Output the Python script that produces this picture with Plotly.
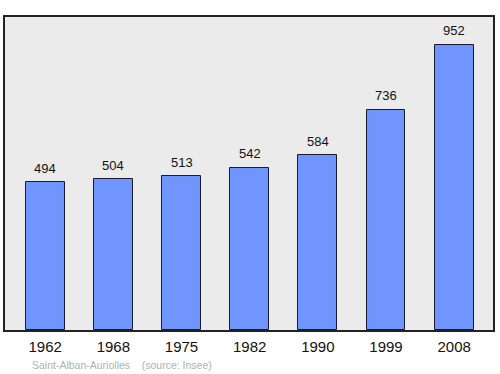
import plotly.graph_objects as go

years = ["1962", "1968", "1975", "1982", "1990", "1999", "2008"]
population = [494, 504, 513, 542, 584, 736, 952]
source_text = "Saint-Alban-Auriolles    (source: Insee)"

idx = list(range(len(years)))
FONT = "Liberation Sans, Arial, sans-serif"

fig = go.Figure()
fig.add_trace(go.Bar(
    x=idx, y=population,
    width=0.57,
    marker=dict(color="#7095ff", line=dict(color="#1a1a2e", width=1)),
    hoverinfo="skip",
))

for i, v in zip(idx, population):
    fig.add_annotation(
        x=i, y=v, text=str(v), showarrow=False,
        xanchor="center", yanchor="middle", yshift=14,
        font=dict(family=FONT, size=13, color="#111111"),
    )

fig.update_layout(
    width=500, height=374,
    margin=dict(l=5, r=5, t=17, b=44),
    paper_bgcolor="white",
    plot_bgcolor="#ebebeb",
    showlegend=False,
    bargap=0,
    xaxis=dict(
        range=[-0.59, 6.57],
        tickvals=idx, ticktext=years,
        showgrid=False, zeroline=False,
        showline=True, mirror=True, linecolor="#222222", linewidth=1.5,
        ticks="", ticklen=0, ticklabelstandoff=2,
        tickfont=dict(family=FONT, size=15, color="#111111"),
        fixedrange=True,
    ),
    yaxis=dict(
        range=[0, 1045],
        showgrid=False, zeroline=False, showticklabels=False,
        showline=True, mirror=True, linecolor="#222222", linewidth=1.5,
        ticks="",
        fixedrange=True,
    ),
)

fig.add_annotation(
    text=source_text, xref="paper", yref="paper",
    x=(30 - 5) / 490, y=-(365 - 330) / 313,
    xanchor="left", yanchor="middle", showarrow=False,
    font=dict(family=FONT, size=10.5, color="#b0b0b0"),
)

fig.write_html("out.html")
